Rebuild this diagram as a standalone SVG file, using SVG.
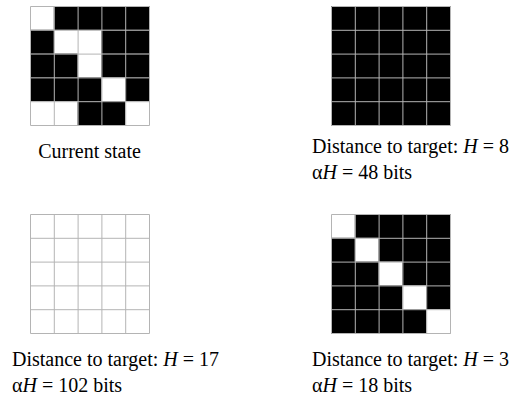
<svg xmlns="http://www.w3.org/2000/svg" width="514" height="398" viewBox="0 0 514 398">
<style>
.b{fill:#000}
.w{fill:#fff}
.gl{stroke:#b4b4b4;stroke-width:1;fill:none}
text{font-family:"Liberation Serif","Times New Roman",serif;font-size:20px;fill:#000}
.i{font-style:italic}
</style>
<defs>
<g id="lines">
<path class="gl" d="M0.5 0.5H119.5V119.5H0.5Z M24.3 0.5V119.5 M48.1 0.5V119.5 M71.9 0.5V119.5 M95.7 0.5V119.5 M0.5 24.3H119.5 M0.5 48.1H119.5 M0.5 71.9H119.5 M0.5 95.7H119.5"/>
</g>
</defs>
<rect width="514" height="398" fill="#fff"/>
<g id="current-state" transform="translate(30,6)">
<rect class="w" x="0" y="0" width="119.5" height="119.5"/>
<rect class="b" x="23.8" y="0" width="95.7" height="23.8"/>
<rect class="b" x="0" y="23.8" width="23.8" height="23.8"/>
<rect class="b" x="71.4" y="23.8" width="48.1" height="23.8"/>
<rect class="b" x="0" y="47.6" width="47.6" height="23.8"/>
<rect class="b" x="71.4" y="47.6" width="48.1" height="23.8"/>
<rect class="b" x="0" y="71.4" width="71.4" height="23.8"/>
<rect class="b" x="95.2" y="71.4" width="24.3" height="23.8"/>
<rect class="b" x="47.6" y="95.2" width="47.6" height="24.3"/>
<use href="#lines"/>
</g>
<text x="89.5" y="158" text-anchor="middle">Current state</text>
<g id="state-h8" transform="translate(331,6)">
<rect class="b" x="0" y="0" width="119.5" height="119.5"/>
<use href="#lines"/>
</g>
<text x="312" y="153">Distance to target: <tspan class="i">H</tspan> = 8</text>
<text x="312" y="179">α<tspan class="i">H</tspan> = 48 bits</text>
<g id="state-h17" transform="translate(30,214)">
<rect class="w" x="0" y="0" width="119.5" height="119.5"/>
<use href="#lines"/>
</g>
<text x="12" y="366">Distance to target: <tspan class="i">H</tspan> = 17</text>
<text x="12" y="392">α<tspan class="i">H</tspan> = 102 bits</text>
<g id="state-h3" transform="translate(331,214)">
<rect class="b" x="0" y="0" width="119.5" height="119.5"/>
<rect class="w" x="0" y="0" width="23.8" height="23.8"/>
<rect class="w" x="23.8" y="23.8" width="23.8" height="23.8"/>
<rect class="w" x="47.6" y="47.6" width="23.8" height="23.8"/>
<rect class="w" x="71.4" y="71.4" width="23.8" height="23.8"/>
<rect class="w" x="95.2" y="95.2" width="24.3" height="24.3"/>
<use href="#lines"/>
</g>
<text x="312" y="366">Distance to target: <tspan class="i">H</tspan> = 3</text>
<text x="312" y="392">α<tspan class="i">H</tspan> = 18 bits</text>
</svg>
